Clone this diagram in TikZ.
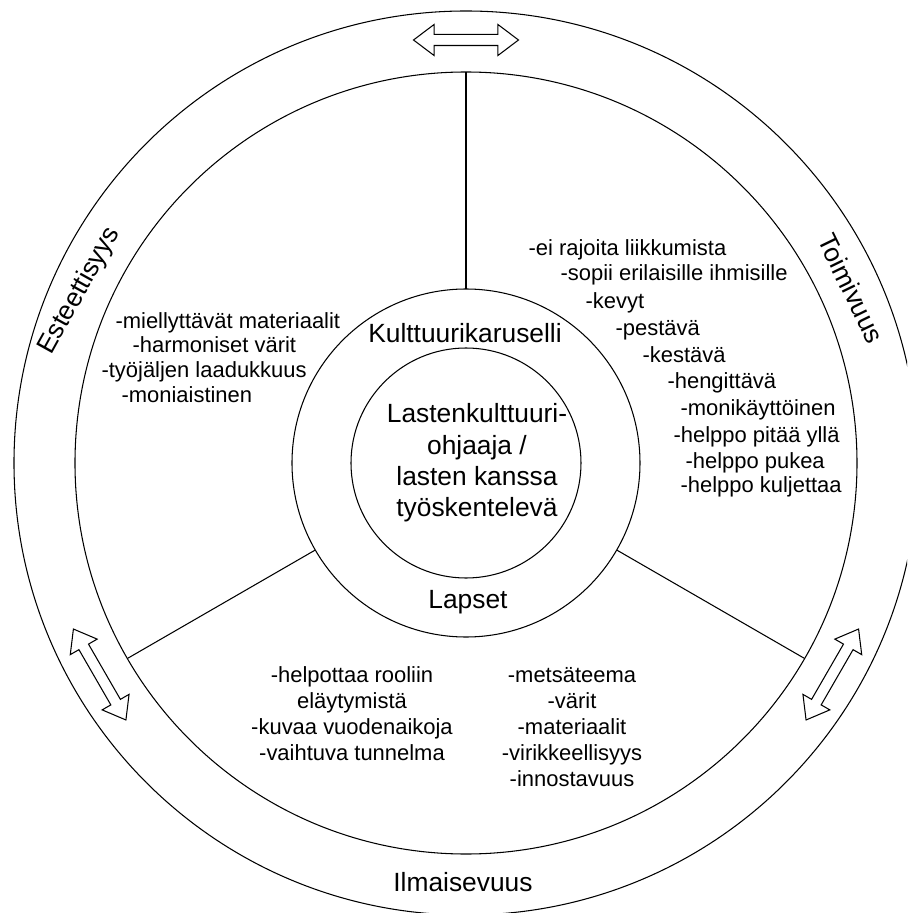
\documentclass[tikz,border=0pt]{standalone}
\usepackage{fontspec}
\setmainfont{Liberation Sans}
\usetikzlibrary{shapes,arrows.meta,positioning}

\begin{document}
\begin{tikzpicture}[
      x=0.2mm,y=0.2mm,line width=0.6pt,
      ring/.style = {circle,draw,inner sep=0,outer sep=0},
      big/.style = {font=\fontsize{15}{17.8}\selectfont,align=center,inner sep=0},
      item/.style = {font=\fontsize{12.5}{14.8}\selectfont,inner sep=0,text height=1.6ex,text depth=0.4ex},
      items/.style = {font=\fontsize{12.5}{14.8}\selectfont,align=center,inner sep=0},
      swap/.style = {double arrow,draw,inner sep=1mm,minimum height=21mm,double arrow head extend=2mm,double arrow tip angle=74}
      ]
      \clip (-466,-450) rectangle (441,463);
      \node (rim)[ring,minimum size=180.8mm] at (0,0) {};
      \node (outer)[ring,minimum size=156.4mm] at (0,0) {};
      \node (middle)[ring,minimum size=69.6mm] at (0,0) {};
      \node (core)[ring,minimum size=46mm] at (0,0) {};

      \node (coretext)[big] at (11,0) {Lastenkulttuuri-\\ohjaaja /\\lasten kanssa\\työskentelevä};
      \node (karuselli)[big] at (-1,130) {Kulttuurikaruselli};
      \node (lapset)[big] at (2,-139) {Lapset};

      \node (esteettisyys)[big,rotate=61] at (156:423) {Esteettisyys};
      \node (toimivuus)[big,rotate=-64] at (24.4:423) {Toimivuus};
      \node (ilmaisevuus)[big] at (-3,-419) {Ilmaisevuus};

      \draw (middle.90) -- (outer.90);
      \draw (middle.210) -- (outer.210);
      \draw (middle.330) -- (outer.330);

      \node (swaptop)[swap] at (90:423) {};
      \node (swapleft)[swap,rotate=120] at (210:423) {};
      \node (swapright)[swap,rotate=60] at (330:423) {};

      \foreach \x/\y/\txt [count=\i] in {-351/140/{-miellyttävät materiaalit},-334/116/{-harmoniset värit},
          -365/91/{-työjäljen laadukkuus},-345/66/{-moniaistinen}}
        \node (este\i)[item,anchor=west] at (\x,\y) {\txt};

      \foreach \x/\y/\txt [count=\i] in {62/213/{-ei rajoita liikkumista},94/188/{-sopii erilaisille ihmisille},
          119/160/{-kevyt},149/133/{-pestävä},176/106/{-kestävä},201/80/{-hengittävä},
          214/53/{-monikäyttöinen},207/26/{-helppo pitää yllä},219/0/{-helppo pukea},214/-24/{-helppo kuljettaa}}
        \node (toim\i)[item,anchor=west] at (\x,\y) {\txt};

      \node (ilmaleft)[items] at (-114,-251) {-helpottaa rooliin\\eläytymistä\\-kuvaa vuodenaikoja\\-vaihtuva tunnelma};
      \node (ilmaright)[items] at (106,-264) {-metsäteema\\-värit\\-materiaalit\\-virikkeellisyys\\-innostavuus};
    \end{tikzpicture}
\end{document}
